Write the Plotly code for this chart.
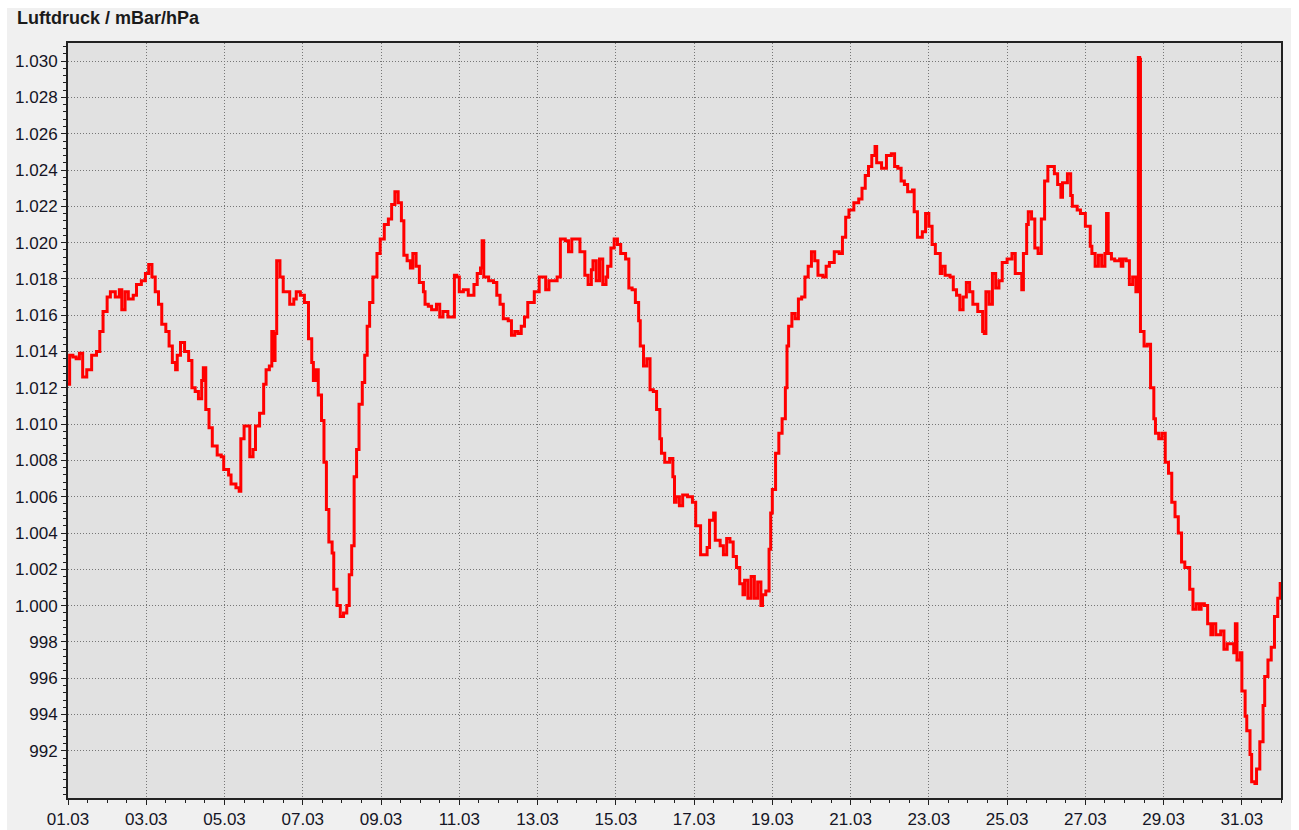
import pandas as pd
import plotly.graph_objects as go

# Hours since 01.03 00:00 and pressure readings (hPa)
hours = [
    0, 1, 3, 5, 7, 9, 11.5, 14.5, 17.5, 19.5, 21.5, 24, 26, 29, 31.5, 33, 35, 37, 40, 42,
    45, 47.5, 49.5, 51.5, 53.5, 55.5, 57.5, 60, 62, 64, 66, 67, 69, 71.5, 74, 76, 78, 80, 82, 83,
    84.5, 86.5, 88.5, 91.5, 94, 95.5, 98.5, 100, 103, 105, 106, 108, 110, 111.5, 113.5, 115, 117.5, 120,
    121.5, 123.5, 125, 126, 127, 128, 130, 132, 134.5, 136, 138.5, 140, 142.5, 145, 147.5, 149.5,
    150.5, 152, 153.5, 155.5, 157, 158.5, 160, 162, 163, 165, 167, 169, 171, 172.5, 174, 175.5, 177,
    178.5, 180.5, 182, 183.5, 185, 187, 189.5, 191.5, 194, 196.5, 198.5, 200.5, 202.5, 204.5, 206,
    208, 210, 211.5, 213.5, 215.5, 218, 219, 221, 223, 226, 228, 230, 233, 235.5, 237, 238.5, 240,
    242.5, 245.5,
    249, 251, 253, 254, 255, 258, 261, 263, 265, 267, 270, 272, 274, 276, 278, 280, 282, 284, 286,
    289, 291, 293, 295, 298, 300, 302, 305, 307, 309, 312, 314, 317, 319, 321, 322, 324, 326, 328,
    330, 331, 333, 335, 337, 339, 342, 344, 346, 348, 350, 351, 353, 355, 357, 359, 361, 363, 364,
    366, 369, 371, 372,
    373, 375, 377, 380, 383, 385, 388, 390, 392, 393.5, 396, 397, 400, 402, 404, 406, 408, 410, 412,
    414, 415, 417, 419, 421, 423, 425, 426, 428, 430, 431, 432, 434, 436, 438, 440, 441, 442, 444,
    446, 448, 450, 452, 454, 456, 458, 460, 463, 465, 467, 470, 473, 475, 477, 479, 482, 485, 487,
    489, 491, 493, 495, 496, 499,
    500, 502, 505, 507, 509, 511, 513, 515, 518, 519, 521, 524, 526, 528, 530, 532, 535, 536, 538,
    541, 543, 545, 547, 549, 551, 553, 555, 558, 561, 562, 563, 565, 567, 569, 571, 573, 576, 579,
    581, 583, 585, 586, 588, 589, 591, 593, 595, 597, 599, 601, 603, 605, 607, 609, 610, 613, 615,
    616, 619, 621,
    624, 627, 628, 630, 632, 634, 636, 637, 638, 640, 642, 645, 646, 647, 649, 651, 653, 655, 656.5,
    657.3, 657.8, 660, 662, 664, 666, 667, 669, 671, 673, 675, 677, 679, 681, 683, 685, 688, 690, 692,
    694, 695, 697, 699, 701, 702, 704, 707, 709, 711, 713, 715, 716, 717, 719, 720, 722, 723, 725,
    726, 728, 729, 731, 733, 734, 736, 738, 740, 742, 743.5,
]

pressure = [
    1012.2, 1013.8, 1013.7, 1013.6, 1013.9, 1012.6, 1013.0, 1013.8, 1014.0, 1015.1, 1016.2, 1017.0,
    1017.3, 1017.0, 1017.4, 1016.3, 1017.3, 1016.9, 1017.1, 1017.7, 1017.9, 1018.3, 1018.8, 1018.1,
    1017.3, 1016.6, 1015.5, 1015.1, 1014.3, 1013.4, 1013.0, 1013.8, 1014.5, 1014.0, 1013.5, 1012.0,
    1011.8, 1011.4, 1012.4, 1013.1, 1010.8, 1009.8, 1008.8, 1008.3, 1008.2, 1007.5, 1007.2, 1006.7,
    1006.5, 1006.3, 1009.2, 1009.9, 1009.9, 1008.2, 1008.6, 1009.9, 1010.6, 1012.2,
    1013.0, 1013.2, 1015.1, 1013.5, 1015.0, 1019.0, 1018.1, 1017.3, 1017.3, 1016.6, 1016.9, 1017.3,
    1017.1, 1016.7, 1014.7, 1013.4, 1012.4, 1013.0, 1011.6, 1010.2, 1007.9, 1005.3, 1003.5, 1002.9,
    1000.9, 1000.0, 999.4, 999.6, 1000.0, 1001.7, 1003.3, 1007.1, 1008.6, 1011.1, 1012.3, 1013.8,
    1015.4, 1016.7, 1018.1, 1019.4, 1020.2, 1021.0, 1021.3, 1022.1, 1022.8, 1022.2, 1021.2, 1019.3,
    1019.0, 1018.6, 1019.4, 1018.7, 1017.8, 1017.3, 1016.6, 1016.5, 1016.3, 1016.6, 1015.9, 1016.2,
    1015.9, 1015.9, 1018.2, 1018.1, 1017.3, 1017.4, 1017.1,
    1017.7, 1018.3, 1018.6, 1020.1, 1018.1, 1017.9, 1017.8, 1017.1, 1016.6, 1015.8, 1015.7, 1014.9,
    1015.1, 1015.0, 1015.4, 1015.9, 1016.7, 1016.7, 1017.3, 1018.1, 1018.1, 1017.4, 1017.9, 1017.9,
    1018.1, 1020.2, 1020.1, 1019.5, 1020.2, 1020.2, 1019.5, 1018.2, 1017.7, 1018.5, 1019.0, 1017.9,
    1019.1, 1017.7, 1018.1, 1018.7, 1019.7, 1020.2, 1019.9, 1019.4, 1019.1, 1017.5, 1017.4, 1016.7,
    1015.7, 1014.3, 1013.2, 1013.6, 1011.9, 1011.8, 1010.8, 1009.2, 1008.4, 1007.9, 1008.1, 1007.1,
    1005.7,
    1006.0, 1005.5, 1006.1, 1006.0, 1005.7, 1004.4, 1002.8, 1002.8, 1003.2, 1004.7, 1005.1, 1003.6,
    1003.3, 1002.8, 1003.7, 1003.5, 1002.7, 1002.1, 1001.2, 1000.6, 1001.4, 1000.4, 1001.6, 1000.4,
    1001.3, 1000.0, 1000.6, 1000.8, 1003.1, 1005.1, 1006.4, 1008.4, 1009.5, 1010.3, 1012.0, 1014.3,
    1015.4, 1016.1, 1015.8, 1016.9, 1017.0, 1018.1, 1018.7, 1019.5, 1019.0, 1018.2, 1018.1, 1018.7,
    1018.9, 1019.5, 1019.4, 1020.3, 1021.4, 1021.8, 1022.2, 1022.4, 1023.0, 1023.7, 1024.2, 1024.8,
    1025.3, 1024.4, 1024.1,
    1024.1, 1024.8, 1024.9, 1024.2, 1024.1, 1023.4, 1023.2, 1022.8, 1022.9, 1021.7, 1020.3, 1020.6,
    1021.6, 1020.9, 1019.9, 1019.4, 1018.3, 1018.7, 1018.2, 1018.1, 1017.4, 1017.1, 1016.3, 1017.0,
    1017.8, 1017.3, 1016.6, 1016.2, 1015.1, 1015.0, 1017.3, 1016.6, 1018.3, 1017.5, 1017.9, 1018.9,
    1019.1, 1019.4, 1018.3, 1018.3, 1017.4, 1019.4, 1021.0, 1021.7, 1021.3, 1019.7, 1019.4, 1021.3,
    1023.4, 1024.2, 1024.2, 1023.8, 1023.2, 1022.5, 1023.3, 1023.8, 1022.6, 1022.0, 1021.8, 1021.6,
    1020.9, 1019.8, 1019.4, 1018.7, 1019.3, 1018.7, 1019.4, 1021.6, 1019.4, 1019.1, 1019.0, 1019.1,
    1018.7, 1019.1, 1019.0, 1017.7, 1018.1, 1017.3, 1030.2, 1030.1, 1015.1, 1014.3, 1014.4, 1012.0,
    1010.3, 1009.5, 1009.2, 1009.5, 1007.9, 1007.3, 1005.7, 1004.9, 1004.0, 1002.4, 1002.1, 1000.9,
    999.8, 1000.1, 999.8, 1000.1, 1000.0, 999.0, 998.4, 999.0, 998.4, 998.6, 997.6, 997.9, 997.9,
    997.4, 999.0, 997.0, 997.4, 995.3, 993.9, 993.1, 991.8, 990.3, 990.2, 991.0, 992.5, 994.5,
    996.1, 997.0, 997.7, 999.4, 1000.4, 1001.3,
]

y_ticks = list(range(992, 1031, 2))
title_text = "Luftdruck / mBar/hPa"
start = pd.Timestamp("2024-03-01")
end = pd.Timestamp("2024-04-01")
y_range = [989.4, 1031.0]

times = start + pd.to_timedelta(hours, unit="h")

W, H = 1299, 830
L, R, T, B = 68, 18, 43, 32
pw, ph = W - L - R, H - T - B


def px_x(p):
    return (p - L) / pw


def px_y(p):
    return (H - B - p) / ph


fig = go.Figure()
fig.add_trace(go.Scatter(
    x=times, y=pressure, mode="lines", line=dict(color="#ff0000", width=3, shape="hv"),
    hoverinfo="skip", showlegend=False,
))

# white page strips around the grey panel (top, left, right)
for x0, x1, y0, y1 in [(0, W, 0, 8), (0, 7, 0, H), (1291, W, 0, H)]:
    fig.add_shape(type="rect", xref="paper", yref="paper",
                  x0=px_x(x0), x1=px_x(x1), y0=px_y(y1), y1=px_y(y0),
                  fillcolor="#ffffff", line=dict(width=0), layer="above")

fig.add_annotation(text="<b>" + title_text + "</b>", xref="paper", yref="paper",
                   x=px_x(15), y=px_y(18), xanchor="left", yanchor="middle",
                   showarrow=False, font=dict(family="Liberation Sans, Arial", size=18, color="#1a1a1a"))

tickfont = dict(family="Liberation Sans, Arial", size=17, color="#151525")
grid_col = "#767676"
fig.update_layout(
    template="none",
    width=W, height=H,
    margin=dict(l=L, r=R, t=T, b=B, pad=0, autoexpand=False),
    paper_bgcolor="#f0f0f0",
    plot_bgcolor="#e1e1e1",
    separators=",.",
    showlegend=False,
    xaxis=dict(
        range=[start, end], type="date", automargin=False,
        tick0=start, dtick=2 * 86400000, tickformat="%d.%m",
        ticks="outside", ticklen=5, tickwidth=1, tickcolor="#222",
        showline=True, linecolor="#222", linewidth=2, mirror=True,
        showgrid=True, gridcolor=grid_col, gridwidth=1, griddash="1px,2px",
        zeroline=False, tickfont=tickfont,
        minor=dict(dtick=43200000, ticks="outside", ticklen=3, tickcolor="#222", showgrid=False),
    ),
    yaxis=dict(
        range=y_range, tickmode="array", tickvals=y_ticks, tickformat=",d", automargin=False,
        ticks="outside", ticklen=5, tickwidth=1, tickcolor="#222",
        showline=True, linecolor="#222", linewidth=2, mirror=True,
        showgrid=True, gridcolor=grid_col, gridwidth=1, griddash="1px,2px",
        zeroline=False, tickfont=tickfont,
        minor=dict(tickmode="linear", tick0=0, dtick=0.4, ticks="outside", ticklen=3,
                   tickcolor="#222", showgrid=False),
    ),
)

fig.write_html(
    "out.html",
    config={"displayModeBar": False},
    post_script="document.body.style.margin='0';document.body.style.overflow='hidden';",
)
